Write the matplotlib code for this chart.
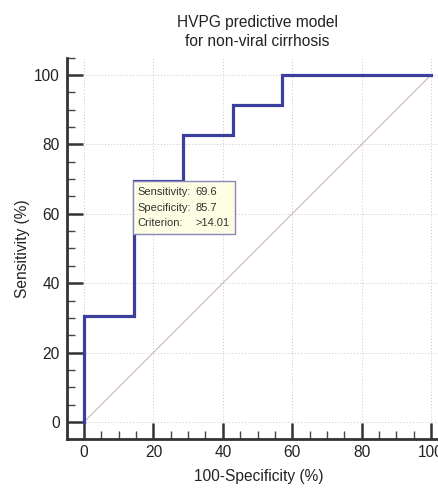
import matplotlib
matplotlib.use("Agg")
import matplotlib.pyplot as plt
from matplotlib.patches import Rectangle
from matplotlib.transforms import ScaledTranslation
from matplotlib.ticker import MultipleLocator

# ROC curve vertices (100-Specificity %, Sensitivity %)
fpr = [0, 0, 14.29, 14.29, 28.57, 28.57, 42.86, 42.86, 57.14, 57.14, 100]
tpr = [0, 30.43, 30.43, 69.57, 69.57, 82.61, 82.61, 91.30, 91.30, 100, 100]
ref_x = [0, 100]
ref_y = [0, 100]
tip_point = (14.29, 69.57)
tip_labels = ["Sensitivity:", "Specificity:", "Criterion:"]
tip_values = ["69.6", "85.7", ">14.01"]
xticks = [0, 20, 40, 60, 80, 100]
yticks = [0, 20, 40, 60, 80, 100]

plt.rcParams['font.family'] = ['Liberation Sans', 'DejaVu Sans']

W, H = 439, 490
fig = plt.figure(figsize=(W / 100, H / 100), dpi=100)

ppu = 3.47  # pixels per unit
x0_px, y0_px = 84, 422  # pixel of data (0,0), y from top
xmin, xmax = -5.0, 106.0
ymin, ymax = -4.9, 105.0
left = (x0_px + xmin * ppu) / W
bottom = (H - (y0_px - ymin * ppu)) / H
width = (xmax - xmin) * ppu / W
height = (ymax - ymin) * ppu / H
ax = fig.add_axes([left, bottom, width, height])
ax.set_xlim(xmin, xmax)
ax.set_ylim(ymin, ymax)

FS = 11.2

for s in ['top', 'right']:
    ax.spines[s].set_visible(False)
for s in ['left', 'bottom']:
    ax.spines[s].set_linewidth(2.0)
    ax.spines[s].set_color('#333333')
ax.spines['left'].set_bounds(ymin, ymax)

ax.set_xticks(xticks)
ax.set_yticks(yticks)
ax.xaxis.set_minor_locator(MultipleLocator(5))
ax.yaxis.set_minor_locator(MultipleLocator(5))
ax.tick_params(which='major', direction='in', length=11.5, width=1.8,
               color='#333333', labelsize=FS, labelcolor='#222222')
ax.tick_params(which='minor', direction='in', length=6, width=1.0, color='#444444')
ax.tick_params(axis='y', which='major', pad=5)
ax.tick_params(axis='x', which='major', pad=4)

ax.grid(True, which='major', linestyle=(0, (1.2, 2.0)), color='#cfcfcf', linewidth=0.7)
ax.set_axisbelow(True)

ax.plot(ref_x, ref_y, color='#c9b3ba', linewidth=0.8, zorder=2)
ax.plot(fpr, tpr, color='#3c3f9e', linewidth=2.3, zorder=3,
        solid_joinstyle='miter', clip_on=False)

ax.set_xlabel('100-Specificity (%)', fontsize=FS, color='#222222', labelpad=7)
ax.set_ylabel('Sensitivity (%)', fontsize=FS, color='#222222', labelpad=3)

fig.text((84 + 431) / 2 / W, 1 - 32 / H, 'HVPG predictive model\nfor non-viral cirrhosis',
         ha='center', va='center', fontsize=FS, color='#222222', linespacing=1.3)

# tooltip
anchor = fig.dpi_scale_trans + ScaledTranslation(tip_point[0], tip_point[1], ax.transData)
rect = Rectangle((-0.01, -0.53), 1.02, 0.525, transform=anchor, facecolor='#fdfde4',
                 edgecolor='#8a86b8', linewidth=1.0, zorder=5, clip_on=False)
ax.add_patch(rect)
for i, (lab, val) in enumerate(zip(tip_labels, tip_values)):
    yy = -0.115 - i * 0.155
    ax.text(0.035, yy, lab, transform=anchor, fontsize=8, va='center', ha='left',
            color='#333333', zorder=6)
    ax.text(0.62, yy, val, transform=anchor, fontsize=8, va='center', ha='left',
            color='#333333', zorder=6)

fig.savefig('out.png', dpi=100)
